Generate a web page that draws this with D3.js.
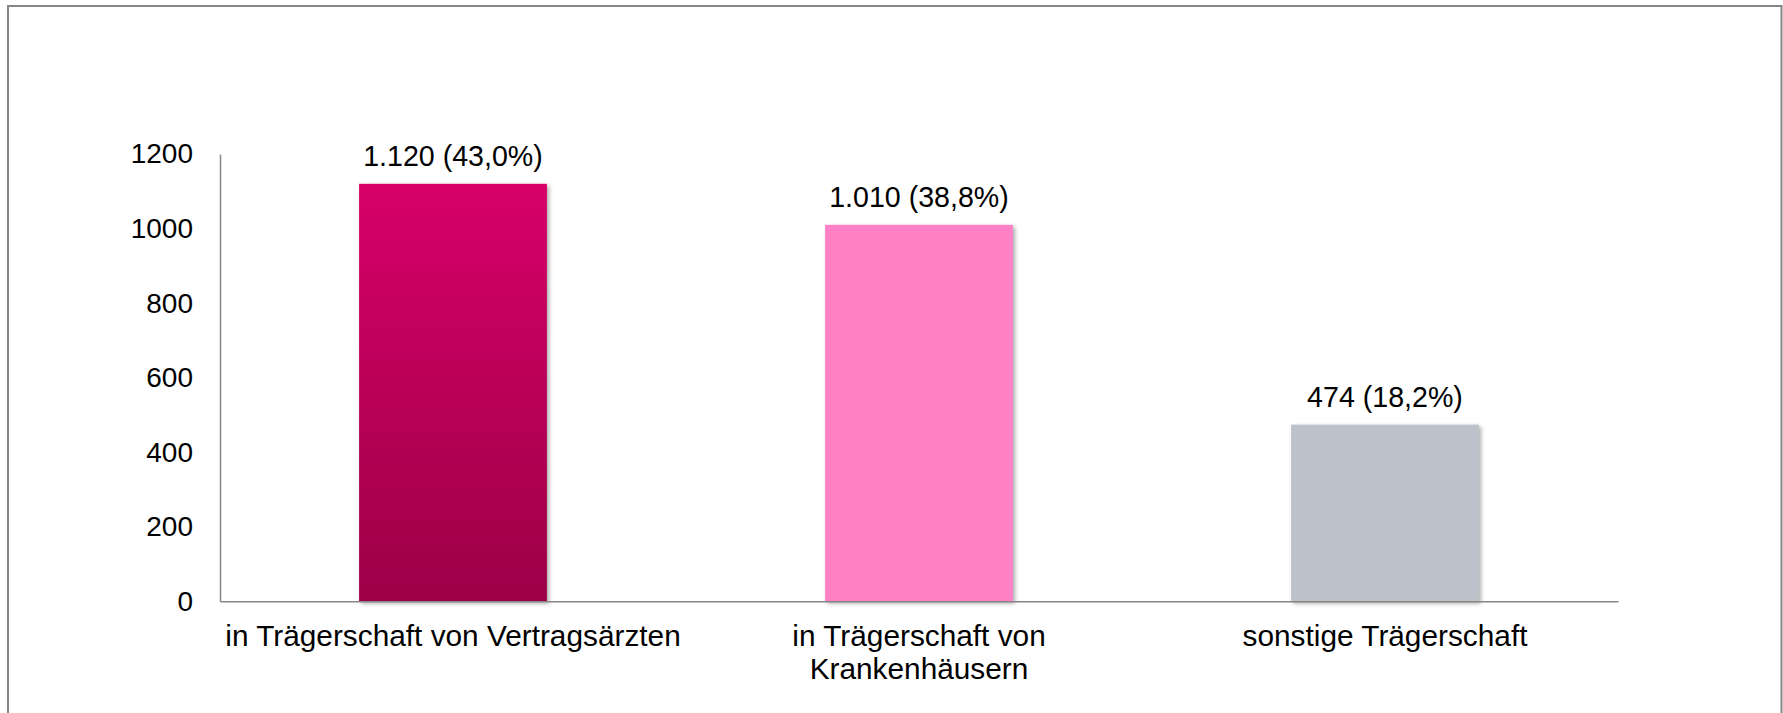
<!DOCTYPE html>
<html>
<head>
<meta charset="utf-8">
<script src="https://cdn.jsdelivr.net/npm/d3@7"></script>
<style>
  html, body { margin: 0; padding: 0; background: #fff; }
  svg { display: block; }
  text { font-family: "Liberation Sans", Arial, sans-serif; fill: #000; }
</style>
</head>
<body>
<svg id="chart" width="1783" height="713"></svg>
<script>
const categories = [
  ["in Trägerschaft von Vertragsärzten"],
  ["in Trägerschaft von", "Krankenhäusern"],
  ["sonstige Trägerschaft"]
];
const values = [1120, 1010, 474];
const valueLabels = ["1.120 (43,0%)", "1.010 (38,8%)", "474 (18,2%)"];
const yTicks = [0, 200, 400, 600, 800, 1000, 1200];
const barColors = ["url(#grad1)", "#FF80C5", "#BBC2C9"];

const svg = d3.select("#chart");

// outer frame
svg.append("rect")
  .attr("x", 8).attr("y", 6)
  .attr("width", 1773.5).attr("height", 730)
  .attr("fill", "none").attr("stroke", "#868686").attr("stroke-width", 2);

const defs = svg.append("defs");
const g1 = defs.append("linearGradient").attr("id", "grad1")
  .attr("x1", 0).attr("y1", 0).attr("x2", 0).attr("y2", 1);
g1.append("stop").attr("offset", "0%").attr("stop-color", "#D70069");
g1.append("stop").attr("offset", "100%").attr("stop-color", "#9C0046");

const f = defs.append("filter").attr("id", "shadow")
  .attr("x", "-10%").attr("y", "-10%").attr("width", "130%").attr("height", "130%");
f.append("feDropShadow").attr("dx", 2).attr("dy", 2).attr("stdDeviation", 2)
  .attr("flood-color", "#000").attr("flood-opacity", 0.35);

const x = d3.scaleBand()
  .domain(d3.range(categories.length))
  .range([220, 1618])
  .paddingInner(0.597)
  .paddingOuter(0.2985);

const y = d3.scaleLinear().domain([0, 1200]).range([601.3, 154]);

// bars
svg.append("g").selectAll("rect")
  .data(values)
  .join("rect")
  .attr("x", (d, i) => x(i))
  .attr("width", x.bandwidth())
  .attr("y", d => y(d))
  .attr("height", d => y(0) - y(d))
  .attr("fill", (d, i) => barColors[i])
  .attr("filter", "url(#shadow)");

// y axis
const yAxis = svg.append("g")
  .attr("transform", "translate(220,0)")
  .call(d3.axisLeft(y).tickValues(yTicks).tickSize(0).tickPadding(27).tickFormat(d3.format("d")));
yAxis.select(".domain").attr("stroke", "#868686").attr("stroke-width", 1.5);
yAxis.selectAll("text")
  .style("font-family", '"Liberation Sans", Arial, sans-serif')
  .style("font-size", "28px").attr("fill", "#000");

// x axis
const xAxis = svg.append("g")
  .attr("transform", `translate(0,${y(0)})`)
  .call(d3.axisBottom(x).tickSize(0).tickFormat(() => ""));
xAxis.select(".domain").attr("stroke", "#868686").attr("stroke-width", 1.5);

// category labels
svg.append("g").selectAll("text")
  .data(categories)
  .join("text")
  .attr("text-anchor", "middle")
  .style("font-size", "29.8px")
  .each(function (lines, i) {
    const t = d3.select(this);
    lines.forEach((ln, j) => {
      t.append("tspan")
        .attr("x", x(i) + x.bandwidth() / 2)
        .attr("y", 646 + j * 33)
        .text(ln);
    });
  });

// value labels
svg.append("g").selectAll("text")
  .data(values)
  .join("text")
  .attr("text-anchor", "middle")
  .attr("x", (d, i) => x(i) + x.bandwidth() / 2)
  .attr("y", d => y(d) - 18)
  .style("font-size", "28.6px")
  .text((d, i) => valueLabels[i]);
</script>
</body>
</html>
